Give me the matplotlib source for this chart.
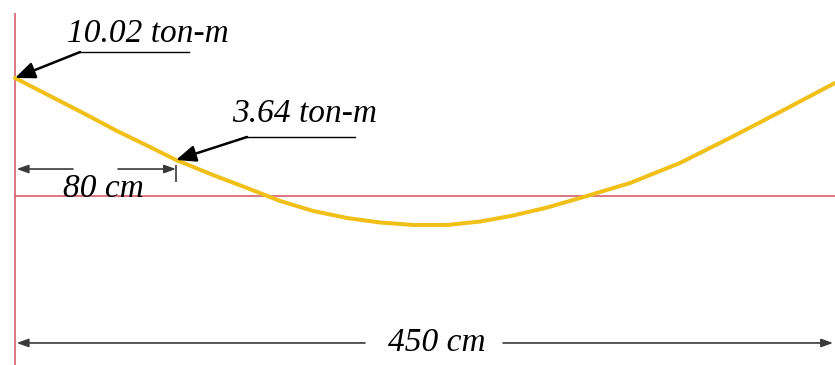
import numpy as np
import matplotlib
matplotlib.use("Agg")
import matplotlib.pyplot as plt

# bending moment diagram (drawing is not to scale)
stations = [0, 17.4, 33.8, 50.7, 67.1, 80, 98.4, 115.3, 131.7, 148.1, 165.0,
            181.4, 197.8, 214.7, 231.1, 247.5, 264.4, 280.8, 305.6, 330.4,
            355.3, 380.1, 407.5]
moments  = [10.02, 8.49, 7.05, 5.52, 4.16, 3.06, 1.78, 0.68, -0.42, -1.27, -1.87,
            -2.25, -2.46, -2.46, -2.17, -1.66, -0.98, -0.17, 1.10, 2.80,
            4.93, 7.13, 9.60]

label_max   = "10.02 ton-m"
label_mid   = "3.64 ton-m"
label_dist  = "80 cm"
label_span  = "450 cm"
dist_point  = 80     # station of the 3.64 marker
span_end    = 406.5

CURVE = "#f0c018"
RED   = "#d4606c"
DIM   = "#3a3a3a"
FONT  = dict(family="Liberation Serif", style="italic", size=24, color="black")

fig = plt.figure(figsize=(8.35, 3.65), dpi=100)
ax = fig.add_axes([0, 0, 1, 1])
ax.set_xlim(-7.45, 407.45)
ax.set_ylim(-14.35, 16.64)
ax.axis("off")

# reference axes
ax.vlines(0, -14.35, 15.5, color=RED, lw=1.2, zorder=1)
ax.hlines(0, 0, 407.45, color=RED, lw=1.2, zorder=1)

# moment curve
ax.plot(stations, moments, color=CURVE, lw=2.9, solid_capstyle="round",
        solid_joinstyle="round", zorder=3)

arrow = dict(arrowstyle="-|>,head_length=0.6,head_width=0.25", color="black",
             lw=1.8, shrinkA=0, shrinkB=0, mutation_scale=20)

# 10.02 label
ax.text(25.8, 13.07, label_max, ha="left", va="baseline", **FONT)
ax.plot([32.3, 86.5], [12.22, 12.22], color="black", lw=1.0)
ax.annotate("", xy=(stations[0], moments[0]), xytext=(32.3, 12.22), arrowprops=arrow, zorder=5)

# 3.64 label
i = stations.index(dist_point)
ax.text(107.8, 6.25, label_mid, ha="left", va="baseline", **FONT)
ax.plot([115.3, 168.9], [5.01, 5.01], color="black", lw=1.0)
ax.annotate("", xy=(stations[i], moments[i]), xytext=(115.3, 5.01), arrowprops=arrow, zorder=5)

# 80 cm dimension
dim_arrow = dict(arrowstyle="-|>,head_length=0.7,head_width=0.25", color=DIM,
                 lw=1.2, shrinkA=0, shrinkB=0, mutation_scale=10)
y80 = 2.29
ax.annotate("", xy=(0.8, y80), xytext=(28.8, y80), arrowprops=dim_arrow)
ax.annotate("", xy=(dist_point, y80), xytext=(51.2, y80), arrowprops=dim_arrow)
ax.vlines(dist_point, 1.19, 2.63, color=DIM, lw=1.2)
ax.text(23.9, -0.1, label_dist, ha="left", va="baseline", **FONT)

# 450 cm dimension
y450 = -12.48
ax.annotate("", xy=(0.8, y450), xytext=(173.9, y450), arrowprops=dim_arrow)
ax.annotate("", xy=(span_end, y450), xytext=(242.5, y450), arrowprops=dim_arrow)
ax.text(209.7, y450, label_span, ha="center", va="center", **FONT)

fig.savefig("out.png", dpi=100, facecolor="white")
